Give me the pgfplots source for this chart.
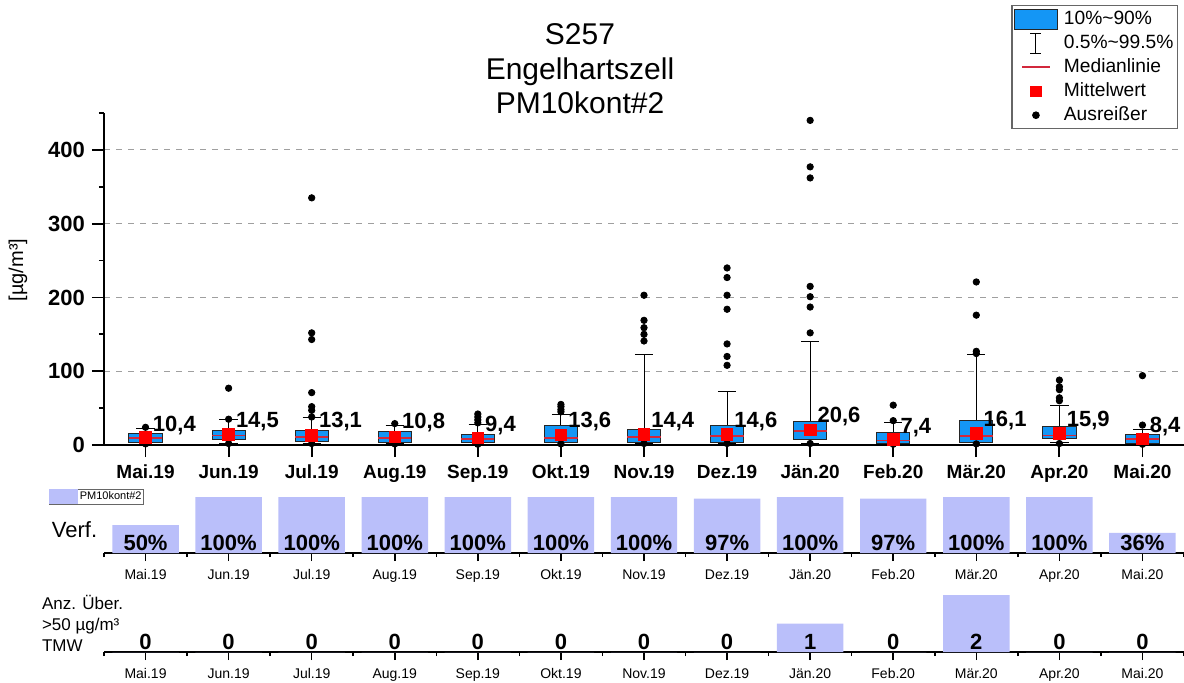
\documentclass[border=0pt]{standalone}
\usepackage{fontspec}
\setmainfont{Liberation Sans}
\usepackage{pgfplots}
\pgfplotsset{compat=1.18}
\usepgfplotslibrary{statistics}
\definecolor{boxblue}{RGB}{20,150,245}
\definecolor{barlav}{RGB}{186,191,250}
\definecolor{medred}{RGB}{210,40,60}
\newcommand{\fs}[1]{\fontsize{#1}{#1}\selectfont}
\begin{document}
\begin{tikzpicture}
\useasboundingbox (0,0) rectangle (592pt,341pt);
% titles
\node[font=\fs{15}, anchor=base] at (290pt,319pt) {S257};
\node[font=\fs{15}, anchor=base] at (290pt,301.5pt) {Engelhartszell};
\node[font=\fs{15}, anchor=base] at (290pt,284pt) {PM10kont\#2};

% ---------------- main box plot ----------------
\begin{axis}[
  at={(52pt,118.5pt)}, anchor=south west,
  width=540pt, height=166pt, scale only axis,
  xmin=-0.5, xmax=12.5, ymin=0, ymax=450,
  axis lines*=left,
  axis line style={line width=1pt},
  tick align=outside,
  major tick length=6pt, minor tick length=2.5pt,
  tick style={black, line width=0.9pt},
  xtick={0,...,12},
  xticklabels={Mai.19,Jun.19,Jul.19,Aug.19,Sep.19,Okt.19,Nov.19,Dez.19,Jän.20,Feb.20,Mär.20,Apr.20,Mai.20},
  ytick={0,100,200,300,400},
  minor ytick={50,150,250,350,450},
  ymajorgrids, major grid style={dashed, gray!75, line width=0.5pt},
  /pgf/number format/assume math mode=true,
  yticklabel style={font=\bfseries\fs{11}},
  xticklabel style={font=\bfseries\fs{9.5}, text height=7pt, text depth=0pt},
  ylabel={[µg/m³]},
  ylabel style={at={(axis description cs:-0.0796,0.527)}, anchor=center, font=\fs{10}},
  clip=false,
  boxplot/draw direction=y,
  boxplot/box extend=0.4,
  boxplot/whisker extend=0.22,
  boxplot/every box/.style={draw=black!85, fill=boxblue, line width=0.5pt},
  boxplot/every whisker/.style={black, line width=0.5pt},
  boxplot/every median/.style={medred, line width=0.9pt},
  legend style={at={(axis description cs:0.9944,1.325)}, anchor=north east,
    draw=black!60, line width=0.6pt, fill=white, font=\fs{9.6},
    inner xsep=1pt, inner ysep=1pt, row sep=0.5pt,
    nodes={inner sep=1pt, text height=7.5pt, text depth=2pt},
    /tikz/every odd column/.append style={column sep=2pt}},
  legend cell align=left,
]
\addlegendimage{legend image code/.code={\draw[fill=boxblue, draw=black!85, line width=0.5pt] (0pt,-5pt) rectangle (21.5pt,5pt);}}
\addlegendentry{10\%\string~90\%}
\addlegendimage{legend image code/.code={\draw[black, line width=0.5pt] (10.75pt,-5pt) -- (10.75pt,5pt) (8pt,-5pt) -- (13.5pt,-5pt) (8pt,5pt) -- (13.5pt,5pt);}}
\addlegendentry{0.5\%\string~99.5\%}
\addlegendimage{legend image code/.code={\draw[medred, line width=0.8pt] (4pt,0pt) -- (18pt,0pt);}}
\addlegendentry{Medianlinie}
\addlegendimage{legend image code/.code={\fill[red] (8.25pt,-2.5pt) rectangle (13.25pt,2.5pt);}}
\addlegendentry{Mittelwert}
\addlegendimage{legend image code/.code={\fill[black] (10.75pt,0pt) circle (1.6pt);}}
\addlegendentry{Ausreißer}

% boxes: lower whisker (0.5%), 10%, median, 90%, upper whisker (99.5%)
\addplot[forget plot, boxplot prepared={draw position=0, lower whisker=1, lower quartile=3, median=9, upper quartile=16, upper whisker=22}] coordinates {};
\addplot[forget plot, boxplot prepared={draw position=1, lower whisker=2, lower quartile=7, median=13, upper quartile=20, upper whisker=34}] coordinates {};
\addplot[forget plot, boxplot prepared={draw position=2, lower whisker=2, lower quartile=5, median=11, upper quartile=19, upper whisker=37}] coordinates {};
\addplot[forget plot, boxplot prepared={draw position=3, lower whisker=2, lower quartile=4, median=9, upper quartile=18, upper whisker=26}] coordinates {};
\addplot[forget plot, boxplot prepared={draw position=4, lower whisker=1, lower quartile=3, median=8, upper quartile=14, upper whisker=28}] coordinates {};
\addplot[forget plot, boxplot prepared={draw position=5, lower whisker=1, lower quartile=3, median=9, upper quartile=26, upper whisker=42}] coordinates {};
\addplot[forget plot, boxplot prepared={draw position=6, lower whisker=2, lower quartile=4, median=11, upper quartile=21, upper whisker=122}] coordinates {};
\addplot[forget plot, boxplot prepared={draw position=7, lower whisker=2, lower quartile=4, median=12, upper quartile=26, upper whisker=72}] coordinates {};
\addplot[forget plot, boxplot prepared={draw position=8, lower whisker=2, lower quartile=7, median=19, upper quartile=32, upper whisker=140}] coordinates {};
\addplot[forget plot, boxplot prepared={draw position=9, lower whisker=1, lower quartile=2, median=6, upper quartile=17, upper whisker=30}] coordinates {};
\addplot[forget plot, boxplot prepared={draw position=10, lower whisker=1, lower quartile=3, median=12, upper quartile=33, upper whisker=123}] coordinates {};
\addplot[forget plot, boxplot prepared={draw position=11, lower whisker=3, lower quartile=9, median=13, upper quartile=25, upper whisker=54}] coordinates {};
\addplot[forget plot, boxplot prepared={draw position=12, lower whisker=1, lower quartile=2, median=8, upper quartile=14, upper whisker=21}] coordinates {};

% outliers
\addplot[forget plot, only marks, mark=*, mark size=1.6pt, black] coordinates {
 (0,24) (0,1.5)
 (1,35) (1,77) (1,2)
 (2,38) (2,47) (2,52) (2,71) (2,143) (2,152) (2,335) (2,2)
 (3,29) (3,1.5)
 (4,30) (4,34) (4,38) (4,42) (4,1)
 (5,45) (5,48) (5,52) (5,55) (5,1.5)
 (6,141) (6,150) (6,159) (6,169) (6,203) (6,2)
 (7,108) (7,120) (7,137) (7,184) (7,203) (7,227) (7,240) (7,2)
 (8,152) (8,187) (8,201) (8,215) (8,362) (8,377) (8,440) (8,2)
 (9,33) (9,54) (9,1)
 (10,124) (10,127) (10,176) (10,221) (10,1.5)
 (11,60) (11,64) (11,75) (11,79) (11,88) (11,2)
 (12,27) (12,94) (12,1)
};
% means
\addplot[forget plot, only marks, mark=square*, mark size=2.9pt, red] coordinates {
 (0,10.4) (1,14.5) (2,13.1) (3,10.8) (4,9.4) (5,13.6) (6,14.4) (7,14.6) (8,20.6) (9,7.4) (10,16.1) (11,15.9) (12,8.4)
};
% mean labels
\addplot[forget plot, only marks, mark=none, point meta=explicit symbolic,
  nodes near coords, nodes near coords style={anchor=west, inner sep=0pt, xshift=3.5pt, font=\bfseries\fs{11}}]
  table[meta=lab] {
x y lab
0 27 10,4
1 32 14,5
2 32 13,1
3 30 10,8
4 27 9,4
5 32 13,6
6 32 14,4
7 32 14,6
8 38 20,6
9 23.5 7,4
10 33 16,1
11 33 15,9
12 25 8,4
};
\end{axis}

% ---------------- Verfügbarkeit ----------------
\node[font=\fs{11}, anchor=base] at (37.25pt,72.3pt) {Verf.};
\begin{axis}[
  at={(52pt,64.5pt)}, anchor=south west,
  width=540pt, height=28pt, scale only axis,
  xmin=-0.5, xmax=12.5, ymin=0, ymax=100,
  axis x line*=bottom, axis y line=none,
  axis line style={line width=1pt},
  tick align=outside, major tick length=4pt, minor tick length=2pt,
  tick style={black, line width=0.8pt},
  xtick={0,...,12}, minor xtick={-0.5,0.5,...,12.5},
  xticklabels={Mai.19,Jun.19,Jul.19,Aug.19,Sep.19,Okt.19,Nov.19,Dez.19,Jän.20,Feb.20,Mär.20,Apr.20,Mai.20},
  xticklabel style={font=\fs{7}, text height=5.5pt, text depth=0pt},
  ytick=\empty,
  clip=false,
  legend style={at={(axis description cs:-0.0509,1.143)}, anchor=north west,
    draw=black!60, line width=0.4pt, fill=white, font=\fs{5.5},
    inner sep=0pt, nodes={inner sep=0.8pt}},
]
\addlegendimage{legend image code/.code={\fill[barlav] (0pt,-3.5pt) rectangle (14pt,3.5pt);}}
\addlegendentry{PM10kont\#2}
\addplot[forget plot, ybar, bar width=0.8, fill=barlav, draw=none] coordinates {
 (0,50) (1,100) (2,100) (3,100) (4,100) (5,100) (6,100) (7,97) (8,100) (9,97) (10,100) (11,100) (12,36)
};
\addplot[forget plot, only marks, mark=none, point meta=explicit symbolic,
  nodes near coords={\pgfplotspointmeta\%}, nodes near coords style={anchor=center, font=\bfseries\fs{11}}]
  coordinates {
 (0,18) [50] (1,18) [100] (2,18) [100] (3,18) [100] (4,18) [100] (5,18) [100] (6,18) [100]
 (7,18) [97] (8,18) [100] (9,18) [97] (10,18) [100] (11,18) [100] (12,18) [36]
};
\end{axis}

% ---------------- Anzahl Überschreitungen ----------------
\node[font=\fs{8.5}, anchor=base west] at (17.5pt,36.5pt) {Anz. Über.};
\node[font=\fs{8.5}, anchor=base west] at (17.5pt,26pt) {>50 µg/m³};
\node[font=\fs{8.5}, anchor=base west] at (17.5pt,15.5pt) {TMW};
\begin{axis}[
  at={(52pt,15pt)}, anchor=south west,
  width=540pt, height=28.5pt, scale only axis,
  xmin=-0.5, xmax=12.5, ymin=0, ymax=2,
  axis x line*=bottom, axis y line=none,
  axis line style={line width=1pt},
  tick align=outside, major tick length=4pt, minor tick length=2pt,
  tick style={black, line width=0.8pt},
  xtick={0,...,12}, minor xtick={-0.5,0.5,...,12.5},
  xticklabels={Mai.19,Jun.19,Jul.19,Aug.19,Sep.19,Okt.19,Nov.19,Dez.19,Jän.20,Feb.20,Mär.20,Apr.20,Mai.20},
  xticklabel style={font=\fs{7}, text height=5.5pt, text depth=0pt},
  ytick=\empty,
  clip=false,
]
\addplot[ybar, bar width=0.8, fill=barlav, draw=none] coordinates {
 (0,0) (1,0) (2,0) (3,0) (4,0) (5,0) (6,0) (7,0) (8,1) (9,0) (10,2) (11,0) (12,0)
};
\addplot[only marks, mark=none, point meta=explicit symbolic,
  nodes near coords, nodes near coords style={anchor=center, font=\bfseries\fs{11}}]
  coordinates {
 (0,0.36) [0] (1,0.36) [0] (2,0.36) [0] (3,0.36) [0] (4,0.36) [0] (5,0.36) [0] (6,0.36) [0]
 (7,0.36) [0] (8,0.36) [1] (9,0.36) [0] (10,0.36) [2] (11,0.36) [0] (12,0.36) [0]
};
\end{axis}
\end{tikzpicture}
\end{document}
